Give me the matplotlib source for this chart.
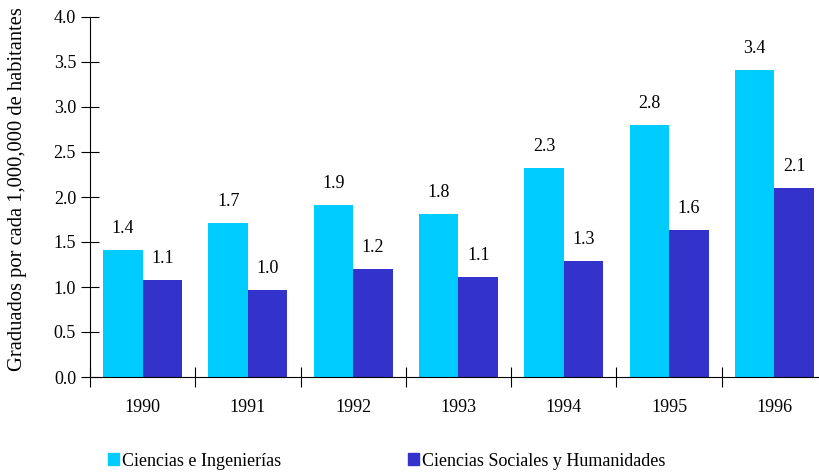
import numpy as np
import matplotlib.pyplot as plt
from matplotlib.patches import Patch

plt.rcParams['font.family'] = ['Liberation Serif', 'DejaVu Serif']

years = ['1990', '1991', '1992', '1993', '1994', '1995', '1996']
ciencias = [1.41, 1.71, 1.91, 1.81, 2.32, 2.80, 3.41]
sociales = [1.08, 0.97, 1.20, 1.11, 1.29, 1.63, 2.10]
lab_ciencias = ['1.4', '1.7', '1.9', '1.8', '2.3', '2.8', '3.4']
lab_sociales = ['1.1', '1.0', '1.2', '1.1', '1.3', '1.6', '2.1']

c1 = '#00CCFF'
c2 = '#3333CC'

fig = plt.figure(figsize=(8.2, 4.74), dpi=100)
# axes runs a little past the right edge, like the original
ax = fig.add_axes([90/820, 97/474, 737/820, 360/474])

x = np.arange(len(years))
w = 0.375
ax.bar(x - w/2, ciencias, w, color=c1, label='Ciencias e Ingenierías')
ax.bar(x + w/2, sociales, w, color=c2, label='Ciencias Sociales y Humanidades')

for i in range(len(years)):
    ax.annotate(lab_ciencias[i], (x[i] - w/2, ciencias[i]), xytext=(0, 15.5),
                textcoords='offset points', ha='center', va='center', fontsize=13)
    ax.annotate(lab_sociales[i], (x[i] + w/2, sociales[i]), xytext=(0, 15.5),
                textcoords='offset points', ha='center', va='center', fontsize=13)

ax.set_xlim(-0.5, len(years) - 0.5)
ax.set_ylim(0, 4.0)
ax.set_yticks(np.arange(0, 4.01, 0.5))
ax.set_yticklabels([f'{v:.1f}' for v in np.arange(0, 4.01, 0.5)])
ax.set_xticks(np.arange(-0.5, len(years), 1.0))
ax.set_xticklabels([])
ax.set_xticks(x, minor=True)
ax.set_xticklabels(years, minor=True)
ax.tick_params(axis='x', which='minor', length=0, pad=16, labelsize=13)
ax.tick_params(axis='x', which='major', direction='inout', length=14, width=0.8)
ax.tick_params(axis='y', direction='inout', length=13, width=0.8, labelsize=13, pad=3.5)

for s in ['top', 'right']:
    ax.spines[s].set_visible(False)
ax.spines['left'].set_linewidth(0.8)
ax.spines['bottom'].set_linewidth(0.8)

fig.text(18/820, (474 - 371)/474, 'Graduados por cada 1,000,000 de habitantes',
         rotation=90, ha='center', va='bottom', fontsize=14.8)

handles = [Patch(color=c1), Patch(color=c2)]
fig.legend(handles, ['Ciencias e Ingenierías', 'Ciencias Sociales y Humanidades'],
           loc='center left', bbox_to_anchor=(92/820, 1 - 461/474), ncol=2,
           frameon=False, fontsize=13, handlelength=0.6, handleheight=0.6,
           handletextpad=0.15, columnspacing=7.05)

fig.savefig('out.png', dpi=100)
